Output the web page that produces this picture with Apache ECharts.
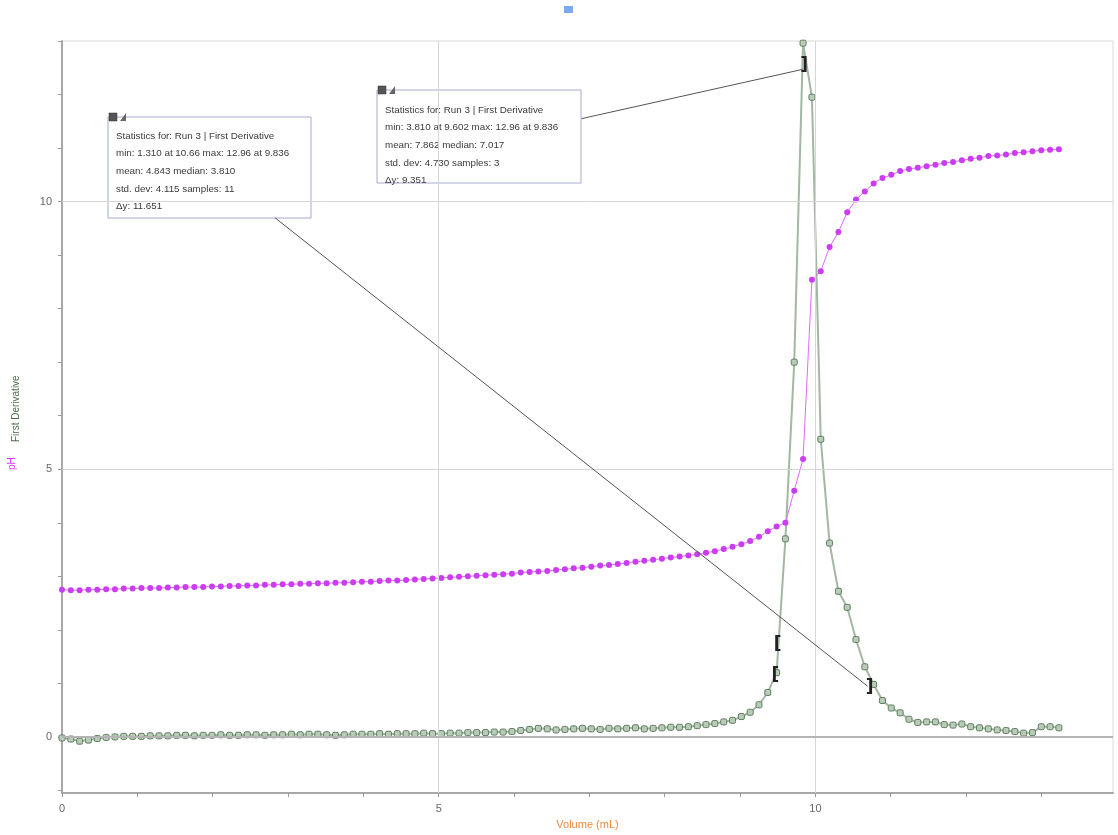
<!DOCTYPE html>
<html><head><meta charset="utf-8">
<script src="https://cdn.jsdelivr.net/npm/echarts@6/dist/echarts.min.js"></script>
<style>html,body{margin:0;padding:0;background:#fff}#c{width:1118px;height:835px}</style>
</head><body><div id="c"></div>
<script>
const volume = [0,0.117,0.234,0.351,0.468,0.586,0.703,0.820,0.937,1.054,
1.171,1.288,1.405,1.522,1.639,1.757,1.874,1.991,2.108,2.225,
2.342,2.459,2.576,2.693,2.810,2.928,3.045,3.162,3.279,3.396,
3.513,3.630,3.747,3.864,3.981,4.099,4.216,4.333,4.450,4.567,
4.684,4.801,4.918,5.035,5.152,5.270,5.387,5.504,5.621,5.738,
5.855,5.972,6.089,6.206,6.323,6.441,6.558,6.675,6.792,6.909,
7.026,7.143,7.260,7.377,7.494,7.612,7.729,7.846,7.963,8.080,
8.197,8.314,8.431,8.548,8.665,8.783,8.900,9.017,9.134,9.251,
9.368,9.485,9.602,9.719,9.836,9.954,10.071,10.188,10.305,10.422,
10.539,10.656,10.773,10.890,11.007,11.125,11.242,11.359,11.476,11.593,
11.710,11.827,11.944,12.061,12.178,12.296,12.413,12.530,12.647,12.764,
12.881,12.998,13.115,13.232];
const pH = [2.75,2.74,2.74,2.75,2.75,2.76,2.76,2.77,2.77,2.78,
2.78,2.78,2.79,2.79,2.80,2.80,2.80,2.81,2.81,2.82,
2.82,2.83,2.83,2.84,2.84,2.85,2.85,2.86,2.86,2.87,
2.87,2.88,2.88,2.89,2.90,2.90,2.91,2.92,2.92,2.93,
2.94,2.95,2.96,2.97,2.98,2.99,3.00,3.01,3.02,3.03,
3.04,3.05,3.07,3.08,3.09,3.10,3.12,3.13,3.15,3.16,
3.18,3.20,3.21,3.23,3.25,3.27,3.29,3.31,3.33,3.35,
3.37,3.39,3.41,3.44,3.47,3.51,3.55,3.60,3.66,3.74,
3.84,3.93,4.00,4.60,5.19,8.54,8.70,9.15,9.43,9.80,
10.04,10.19,10.34,10.44,10.50,10.57,10.61,10.63,10.66,10.69,
10.72,10.74,10.77,10.80,10.82,10.85,10.86,10.88,10.91,10.92,
10.94,10.96,10.97,10.98];
const firstDerivative = [-0.02,-0.04,-0.08,-0.06,-0.03,-0.01,0.00,0.01,0.01,0.01,
0.02,0.02,0.02,0.03,0.03,0.02,0.03,0.03,0.04,0.03,
0.03,0.04,0.04,0.03,0.04,0.04,0.05,0.04,0.05,0.05,
0.04,0.03,0.04,0.05,0.05,0.05,0.06,0.05,0.06,0.06,
0.06,0.07,0.06,0.06,0.07,0.07,0.08,0.08,0.08,0.09,
0.09,0.10,0.12,0.14,0.16,0.15,0.13,0.14,0.15,0.16,
0.15,0.14,0.16,0.15,0.16,0.17,0.15,0.16,0.17,0.18,
0.18,0.19,0.21,0.23,0.25,0.28,0.31,0.38,0.46,0.60,
0.83,1.20,3.70,7.00,12.96,11.95,5.56,3.62,2.72,2.42,
1.82,1.31,0.98,0.68,0.54,0.45,0.33,0.27,0.28,0.28,
0.23,0.22,0.24,0.19,0.17,0.15,0.13,0.12,0.10,0.07,
0.08,0.19,0.19,0.17];
const xTickValues = [0,1,2,3,4,5,6,7,8,9,10,11,12,13];
const xLabelValues = [0,5,10];
const yTickValues = [-1,0,1,2,3,4,5,6,7,8,9,10,11,12,13];
const yLabelValues = [0,5,10];
const gridXValues = [5,10];
const gridYValues = [5,10];
const box1Lines = ['Statistics for: Run 3 | First Derivative','min: 1.310 at 10.66 max: 12.96 at 9.836','mean: 4.843 median: 3.810','std. dev: 4.115 samples: 11','\u0394y: 11.651'];
const box2Lines = ['Statistics for: Run 3 | First Derivative','min: 3.810 at 9.602 max: 12.96 at 9.836','mean: 7.862 median: 7.017','std. dev: 4.730 samples: 3','\u0394y: 9.351'];

const chart = echarts.init(document.getElementById('c'), null, {renderer:'canvas'});
const pHData = volume.map((v,i)=>[v,pH[i]]);
const dData = volume.map((v,i)=>[v,firstDerivative[i]]);

function box(x,y,w,h,lines,lineGap,firstY){
  const children = [
    {type:'rect', shape:{x:0,y:0,width:w,height:h}, style:{fill:'#fff', stroke:'#a9a9cf', lineWidth:1}},
    {type:'rect', shape:{x:1,y:-4,width:8,height:8}, style:{fill:'#555', stroke:'#333', lineWidth:0.5}},
    {type:'polygon', shape:{points:[[12,4],[18,-4],[18,4]]}, style:{fill:'#666'}}
  ];
  lines.forEach((t,i)=>children.push({type:'text', x:8, y:firstY+i*lineGap, style:{text:t, fill:'#3a3a3a', font:(i===0?'500 ':'')+'9.8px "Liberation Sans", Arial, sans-serif', verticalAlign:'middle'}}));
  return {type:'group', x:x, y:y, z:50, children:children};
}

const option = {
  animation:false,
  backgroundColor:'#fff',
  grid:{left:62, top:41, right:5, bottom:41, show:true, borderColor:'#d8d8d8', borderWidth:1, backgroundColor:'transparent'},
  xAxis:{type:'value', min:0, max:13.95,
    name:'Volume (mL)', nameLocation:'middle', nameGap:24,
    nameTextStyle:{color:'#f08a40', fontSize:11, fontFamily:'Liberation Sans'},
    axisLine:{show:true, onZero:false, lineStyle:{color:'#a8a8a8', width:2}},
    axisTick:{show:true, customValues:xTickValues, length:4, lineStyle:{color:'#999'}},
    axisLabel:{customValues:xLabelValues, color:'#666', fontSize:11, margin:10, fontFamily:'Liberation Sans'},
    splitLine:{show:false}},
  yAxis:{type:'value', min:-1.05, max:13,
    axisLine:{show:true, onZero:false, lineStyle:{color:'#a8a8a8', width:2}},
    axisTick:{show:true, customValues:yTickValues, length:4, lineStyle:{color:'#999'}},
    axisLabel:{customValues:yLabelValues, color:'#666', fontSize:11, margin:10, fontFamily:'Liberation Sans'},
    splitLine:{show:false}},
  series:[
    {type:'line', data:[], silent:true, z:1,
      markLine:{silent:true, symbol:'none', label:{show:false}, animation:false,
        data:[
          ...gridXValues.map(v=>({xAxis:v, lineStyle:{color:'#d6d6d6', width:1, type:'solid'}})),
          ...gridYValues.map(v=>({yAxis:v, lineStyle:{color:'#d6d6d6', width:1, type:'solid'}})),
          {yAxis:0, lineStyle:{color:'#b4b4b4', width:2, type:'solid'}}
        ]}},
    {name:'First Derivative', type:'line', data:dData, z:3,
      symbol:'roundRect', symbolSize:6, showAllSymbol:true,
      lineStyle:{color:'#a3b8a3', width:2},
      itemStyle:{color:'#b9cbb9', borderColor:'#5f7d5f', borderWidth:1}},
    {name:'pH', type:'line', data:pHData, z:4,
      symbol:'circle', symbolSize:6, showAllSymbol:true,
      lineStyle:{color:'#e06cff', width:1},
      itemStyle:{color:'#cc3cf2'}},
    {type:'line', data:[], silent:true, z:5,
      markLine:{silent:true, symbol:'none', label:{show:false}, animation:false,
        lineStyle:{color:'#555', width:1, type:'solid'},
        data:[
          [{coord:[2.825,9.70]},{coord:[10.69,0.95]}],
          [{coord:[6.897,11.55]},{coord:[9.83,12.47]}]
        ]},
      markPoint:{silent:true, symbol:'rect', symbolSize:1, itemStyle:{color:'rgba(0,0,0,0)'},
        label:{show:true, position:'inside', formatter:'{b}', color:'#222', fontSize:17, fontWeight:'bold', fontFamily:'DejaVu Sans'},
        data:[
          {name:']', coord:[9.85,12.55]},
          {name:'[', coord:[9.50,1.72]},
          {name:'[', coord:[9.47,1.15]},
          {name:']', coord:[10.72,0.92]}
        ]}}
  ],
  graphic:[
    box(108,117,203,101,box1Lines,17.6,19),
    box(377,90,204,93,box2Lines,17.6,20),
    {type:'text', x:12, y:470, rotation:Math.PI/2, style:{text:'pH', fill:'#d03cf5', font:'10px "Liberation Sans", Arial', verticalAlign:'middle'}},
    {type:'text', x:16, y:442, rotation:Math.PI/2, style:{text:'First Derivative', fill:'#4f6d4f', font:'10px "Liberation Sans", Arial', verticalAlign:'middle'}},
    {type:'rect', shape:{x:564,y:6,width:9,height:7}, style:{fill:'#7aaaf0'}}
  ]
};
chart.setOption(option);
</script></body></html>
